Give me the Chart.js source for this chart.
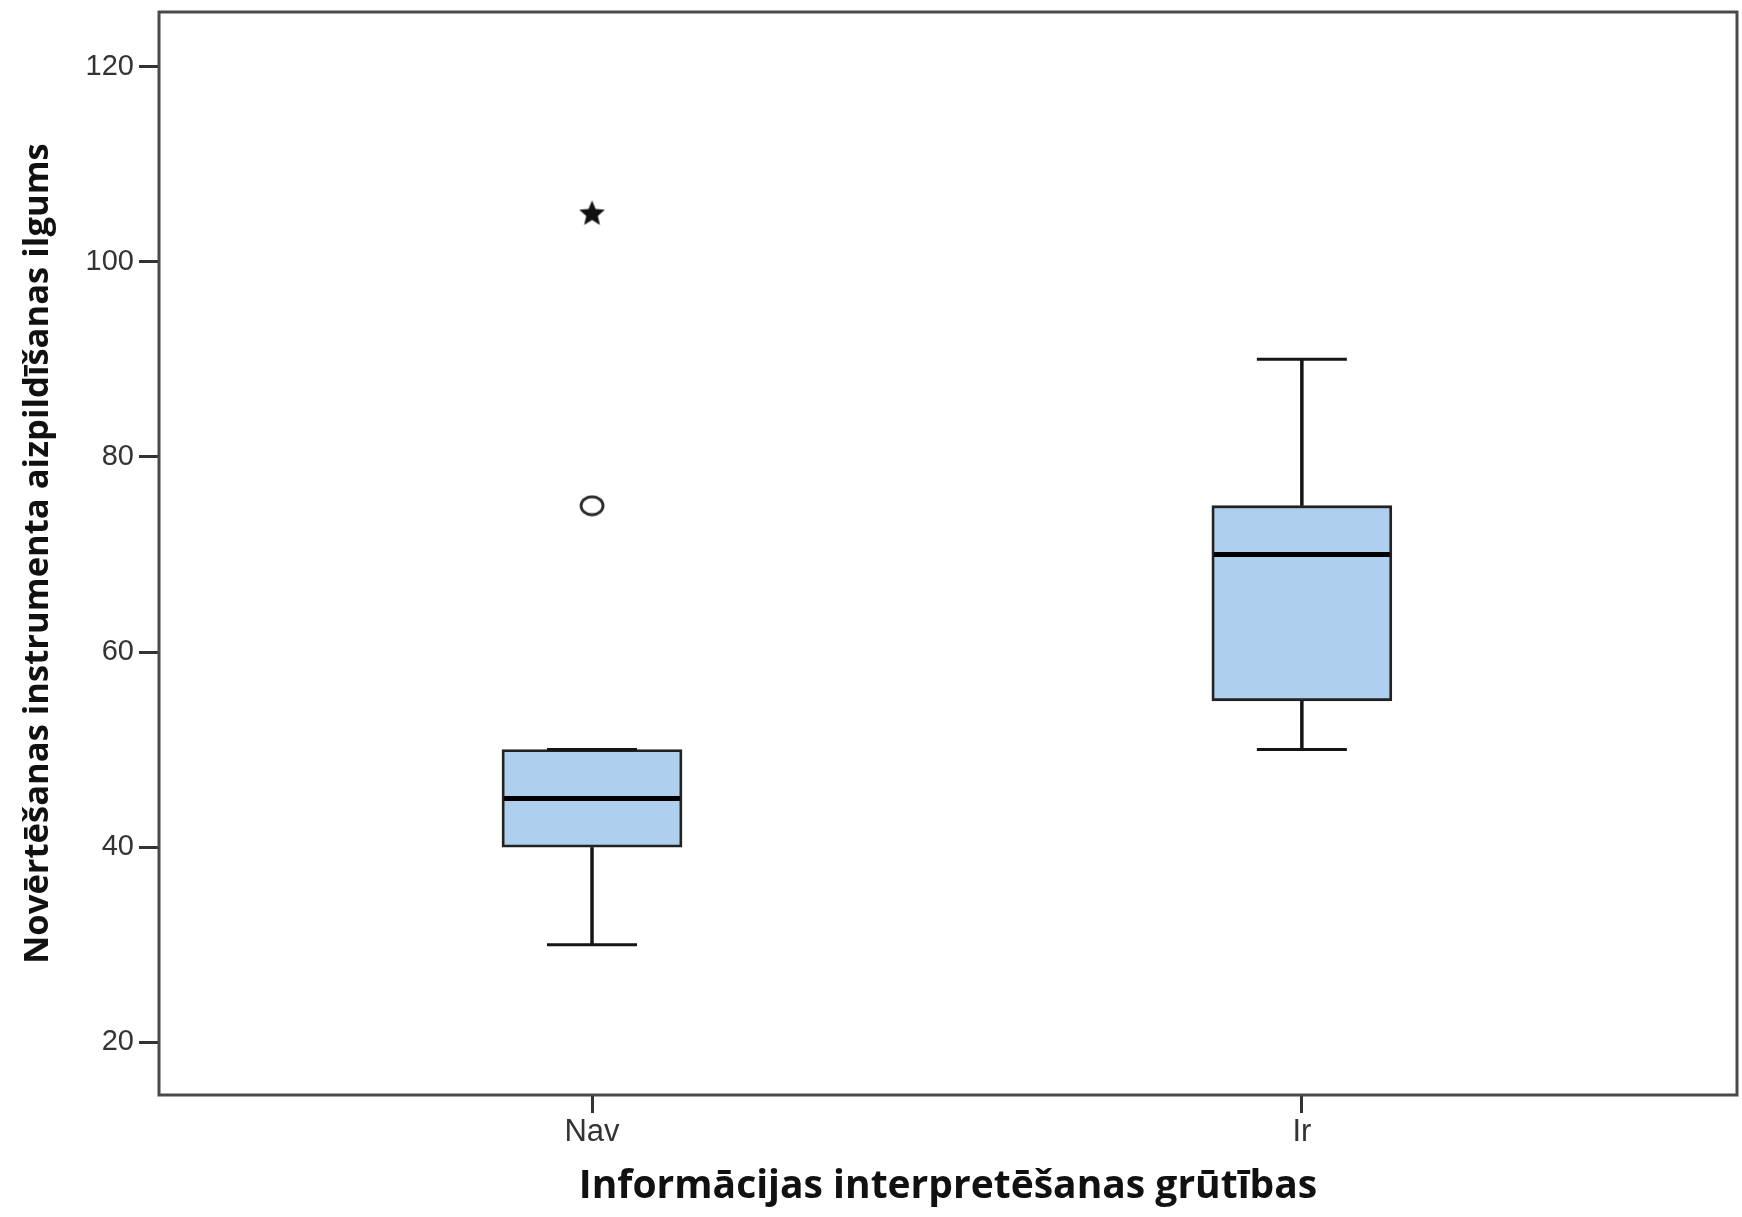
<!DOCTYPE html>
<html>
<head>
<meta charset="utf-8">
<script src="https://cdn.jsdelivr.net/npm/chart.js@4"></script>
<style>
  html, body { margin: 0; padding: 0; background: #fff; }
  canvas { display: block; }
</style>
</head>
<body>
<canvas id="chart" width="1742" height="1217"></canvas>
<script>
// box plot values
const groups = ['Nav', 'Ir'];
const whiskerLow = [30, 50];
const q1 = [40, 55];
const median = [45, 70];
const q3 = [50, 75];
const whiskerHigh = [50, 90];

// outliers: circle = mild, star = extreme
const outlierGroup = [0];
const outlierValue = [75];
const extremeGroup = [0];
const extremeValue = [105];

const yTicks = [20, 40, 60, 80, 100, 120];

const xTitle = 'Informācijas interpretēšanas grūtības';
const yTitle = 'Novērtēšanas instrumenta aizpildīšanas ilgums';

// five point star for the extreme value
function makeStar(size) {
    const c = document.createElement('canvas');
    c.width = size;
    c.height = size;
    const g = c.getContext('2d');
    const cx = size / 2, cy = size / 2 + 1;
    const outer = size / 2 - 1, inner = outer * 0.45;
    g.beginPath();
    for (let i = 0; i < 10; i++) {
        const r = i % 2 ? inner : outer;
        const a = -Math.PI / 2 + i * Math.PI / 5;
        g.lineTo(cx + r * Math.cos(a), cy + r * Math.sin(a));
    }
    g.closePath();
    g.fillStyle = '#111';
    g.fill();
    return c;
}

// spss draws the circle a bit wider than tall
function makeRing(w, h) {
    const c = document.createElement('canvas');
    c.width = w;
    c.height = h;
    const g = c.getContext('2d');
    g.beginPath();
    g.ellipse(w / 2, h / 2, w / 2 - 2, h / 2 - 2, 0, 0, Math.PI * 2);
    g.lineWidth = 2.8;
    g.strokeStyle = '#2a2a2a';
    g.stroke();
    return c;
}

// whiskers, caps, medians and the outer frame
const boxExtras = {
    id: 'boxExtras',
    afterDatasetsDraw(chart) {
        const { ctx, scales: { x, y }, chartArea: a } = chart;
        ctx.save();
        ctx.lineCap = 'butt';
        groups.forEach((g, i) => {
            const px = x.getPixelForValue(i);
            ctx.strokeStyle = '#151515';
            ctx.lineWidth = 3.5;
            ctx.beginPath();
            ctx.moveTo(px, y.getPixelForValue(q1[i]));
            ctx.lineTo(px, y.getPixelForValue(whiskerLow[i]));
            ctx.moveTo(px, y.getPixelForValue(q3[i]));
            ctx.lineTo(px, y.getPixelForValue(whiskerHigh[i]));
            ctx.stroke();

            ctx.lineWidth = 3;
            ctx.beginPath();
            [whiskerLow[i], whiskerHigh[i]].forEach(v => {
                const py = y.getPixelForValue(v);
                ctx.moveTo(px - 45, py);
                ctx.lineTo(px + 45, py);
            });
            ctx.stroke();

            ctx.lineWidth = 5;
            ctx.strokeStyle = '#000';
            ctx.beginPath();
            const pm = y.getPixelForValue(median[i]);
            ctx.moveTo(px - 88, pm);
            ctx.lineTo(px + 88, pm);
            ctx.stroke();
        });
        ctx.lineWidth = 3;
        ctx.strokeStyle = '#4a4a4a';
        ctx.strokeRect(a.left, a.top, a.right - a.left, a.bottom - a.top);
        ctx.restore();
    }
};

new Chart(document.getElementById('chart'), {
    type: 'bar',
    data: {
        datasets: [
            {
                type: 'bar',
                data: groups.map((g, i) => ({ x: i, y: [q1[i], q3[i]] })),
                backgroundColor: '#aecfee',
                borderColor: '#222',
                borderWidth: 2.8,
                borderSkipped: false,
                barThickness: 180
            },
            {
                type: 'scatter',
                data: outlierGroup.map((g, i) => ({ x: g, y: outlierValue[i] })),
                pointStyle: makeRing(26, 22)
            },
            {
                type: 'scatter',
                data: extremeGroup.map((g, i) => ({ x: g, y: extremeValue[i] })),
                pointStyle: makeStar(29)
            }
        ]
    },
    options: {
        responsive: false,
        animation: false,
        layout: { padding: { left: 0, top: 12, right: 3, bottom: 0 } },
        plugins: {
            legend: { display: false },
            tooltip: { enabled: false }
        },
        scales: {
            x: {
                type: 'linear',
                min: -0.61,
                max: 1.613,
                offset: false,
                afterBuildTicks: axis => { axis.ticks = groups.map((g, i) => ({ value: i })); },
                afterFit: axis => { axis.height = 122; },
                border: { display: false },
                grid: {
                    offset: false,
                    drawOnChartArea: false,
                    drawTicks: true,
                    tickLength: 18,
                    tickWidth: 3,
                    tickColor: '#333'
                },
                ticks: {
                    callback: v => groups[v],
                    color: '#333',
                    padding: 1,
                    maxRotation: 0,
                    font: { family: 'Liberation Sans', size: 31 }
                },
                title: {
                    display: true,
                    text: xTitle,
                    color: '#111',
                    padding: { top: 0, bottom: 11 },
                    font: { family: 'Open Sans', weight: 'bold', size: 39, lineHeight: 1 }
                }
            },
            y: {
                min: 14.6,
                max: 125.6,
                offset: false,
                afterBuildTicks: axis => { axis.ticks = yTicks.map(v => ({ value: v })); },
                afterFit: axis => { axis.width = 159; },
                border: { display: false },
                grid: {
                    drawOnChartArea: false,
                    drawTicks: true,
                    tickLength: 20,
                    tickWidth: 3,
                    tickColor: '#333'
                },
                ticks: {
                    color: '#333',
                    padding: 5,
                    font: { family: 'Liberation Sans', size: 29, lineHeight: 0.4 }
                },
                title: {
                    display: true,
                    text: yTitle,
                    color: '#111',
                    padding: { top: 21, bottom: 0 },
                    font: { family: 'Open Sans', weight: 'bold', size: 34.6, lineHeight: 1 }
                }
            }
        }
    },
    plugins: [boxExtras]
});
</script>
</body>
</html>
